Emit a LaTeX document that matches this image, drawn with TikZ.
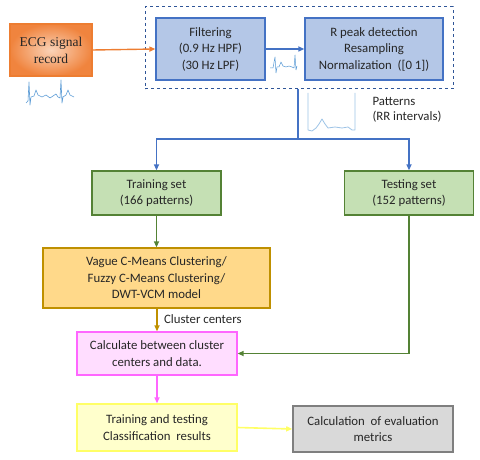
\documentclass[tikz,border=0pt]{standalone}
\usepackage{fontspec}
\setmainfont{Carlito}
\newfontfamily\serifecg{Liberation Serif}
\usetikzlibrary{arrows.meta,positioning,calc}
\definecolor{bblue}{HTML}{4472C4}
\definecolor{bfill}{HTML}{B4C7E7}
\definecolor{dblue}{HTML}{2F5597}
\definecolor{sig}{HTML}{5B9BD5}
\definecolor{sigl}{HTML}{9DC3E6}
\definecolor{gdraw}{HTML}{548235}
\definecolor{gfill}{HTML}{C5E0B4}
\definecolor{odraw}{HTML}{ED7D31}
\definecolor{ofillin}{HTML}{FAD3B8}
\definecolor{ofillout}{HTML}{F0843E}
\definecolor{ydraw}{HTML}{BF9000}
\definecolor{yfill}{HTML}{FFD98A}
\definecolor{pdraw}{HTML}{FF66FF}
\definecolor{pfill}{HTML}{FFDDFF}
\definecolor{ltdraw}{HTML}{FFFF66}
\definecolor{ltfill}{HTML}{FFFFCC}
\definecolor{grdraw}{HTML}{7F7F7F}
\definecolor{grfill}{HTML}{D9D9D9}
\definecolor{txt}{HTML}{262626}
\begin{document}
\begin{tikzpicture}[x=1pt,y=-1pt,
  box/.style={draw,line width=1.3pt,align=center,inner sep=2pt,text=txt,
    font=\fontsize{12.8}{16.5}\selectfont},
  tip/.style={-{Triangle[length=6pt,width=5pt]}},
  sigline/.style={sig,line width=0.6pt,line join=round}]
\useasboundingbox (0,0) rectangle (480,460);
% group box
\node[draw=dblue,dashed,line width=1pt,minimum width=308pt,minimum height=82pt] (grp) at (299,48) {};
\node[box,draw=odraw,inner color=ofillin,outer color=ofillout,minimum width=82pt,minimum height=52pt,
  font=\serifecg\fontsize{13.5}{17}\selectfont] (ecg) at (51,50) {ECG signal\\record};
\node[box,draw=bblue,fill=bfill,minimum width=109pt,minimum height=62pt] (filt) at (210.5,49)
  {Filtering\\(0.9 Hz HPF)\\(30 Hz LPF)};
\node[box,draw=bblue,fill=bfill,minimum width=138pt,minimum height=62pt] (rpk) at (374,49)
  {R peak detection\\Resampling\\Normalization\ \ ([0 1])};
\node[box,draw=gdraw,fill=gfill,minimum width=129pt,minimum height=44pt] (train) at (156.5,193)
  {Training set\\(166 patterns)};
\node[box,draw=gdraw,fill=gfill,minimum width=129pt,minimum height=44pt] (test) at (409,193)
  {Testing set\\(152 patterns)};
\node[box,draw=ydraw,fill=yfill,minimum width=227pt,minimum height=60pt] (vcm) at (156.5,278)
  {Vague C-Means Clustering/\\Fuzzy C-Means Clustering/\\DWT-VCM model};
\node[box,draw=pdraw,fill=pfill,minimum width=160pt,minimum height=43pt] (calc) at (157,353.5)
  {Calculate between cluster\\centers and data.};
\node[box,draw=ltdraw,fill=ltfill,minimum width=160pt,minimum height=47pt] (tt) at (157,427.5)
  {Training and testing\\Classification\ \ results};
\node[box,draw=grdraw,fill=grfill,line width=1.6pt,minimum width=160pt,minimum height=46pt] (evalm) at (373,429)
  {Calculation\ \ of evaluation\\metrics};
% connectors
\draw[tip,odraw,line width=1.4pt] (ecg.east) -- (filt.west);
\draw[tip,bblue,line width=1.8pt] (filt.east) -- (rpk.west);
\coordinate (gs) at (298,89);
\coordinate (split) at (298,139);
\draw[bblue,line width=2pt] (gs) -- (split);
\draw[tip,bblue,line width=1.8pt] (split) -| (train.north);
\draw[tip,bblue,line width=1.8pt] (split) -| (test.north);
\draw[tip,gdraw,line width=1.6pt] (train.south) -- (vcm.north);
\draw[tip,ydraw,line width=1.6pt] (vcm.south -| calc.north) -- node[right,text=txt,font=\fontsize{12.8}{14}\selectfont,xshift=3pt,yshift=1pt]{Cluster centers} (calc.north);
\draw[tip,gdraw,line width=1.6pt] (test.south) |- (calc.east);
\draw[tip,pdraw,line width=1.6pt] (calc.south) -- (tt.north);
\draw[tip,ltdraw,line width=1.6pt] (tt.east) -- (evalm.west);
% label
\node[anchor=west,align=left,text=txt,font=\fontsize{12.8}{15}\selectfont] (pat) at (369,109.5) {Patterns\\(RR intervals)};
% signals
\draw[sigline] (26,103) -- (28,101) -- (29,82) -- (30,105) -- (31,97) -- (34,96) -- (36,90) -- (38,95) -- (42,97) -- (46,95) -- (50,98) -- (53,96) -- (56,94) -- (58,97) -- (60,98) -- (61,80) -- (62,103) -- (63,97) -- (66,95) -- (68,90) -- (70,95) -- (74,97);
\draw[sigline,line width=0.5pt] (270,68) -- (273,68) -- (275,57) -- (276,73) -- (277,67) -- (279,67) -- (281,62) -- (283,66) -- (286,67) -- (289,66) -- (292,67) -- (294,68) -- (295,55) -- (296,70) -- (297,66);
\draw[sigl,line width=0.8pt,line join=round] (308,93) -- (308,130) -- (312,131) -- (316,128) -- (319,124) -- (322,119) -- (325,124) -- (328,128) -- (335,127) -- (342,128) -- (348,127) -- (352,130) -- (355,130) -- (355,93);
\end{tikzpicture}
\end{document}
